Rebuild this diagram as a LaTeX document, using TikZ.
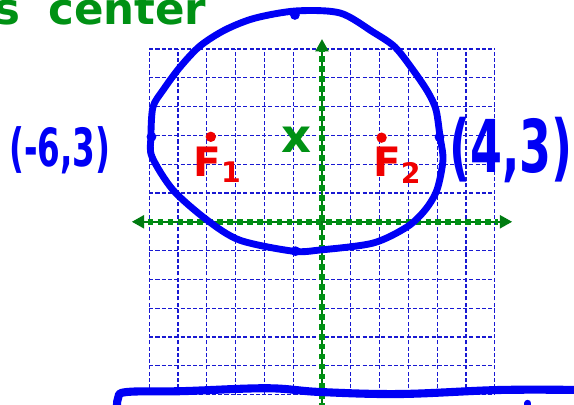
\documentclass[tikz,border=0pt]{standalone}
\usepackage{fontspec}
\setmainfont{DejaVu Sans}
\usepackage{graphicx}
\definecolor{pen}{RGB}{0,0,245}
\definecolor{gridblue}{RGB}{25,25,210}
\definecolor{marker}{RGB}{0,145,20}
\definecolor{focus}{RGB}{240,0,0}
\usetikzlibrary{arrows.meta}
\tikzset{
  gridline/.style={gridblue, line width=0.6pt, dash pattern=on 2pt off 1.1pt},
  axisline/.style={marker!85!black, line width=0.8pt,
              >={Triangle[length=6pt,width=6.5pt]}, <->},
  axisdots/.style={marker, line width=2.8pt, dash pattern=on 2.8pt off 2.1pt},
  curve/.style={pen, line width=3.4pt, line cap=round, line join=round},
  coordlabel/.style={pen, inner sep=0pt, font=\bfseries\fontsize{26}{26}\selectfont},
  foclabel/.style={focus, inner sep=0pt, font=\bfseries\fontsize{20}{20}\selectfont},
  note/.style={marker, inner sep=0pt, font=\bfseries\fontsize{21.5}{21.5}\selectfont},
}
\begin{document}
\begin{tikzpicture}[x=0.5cm,y=0.5cm]
    \useasboundingbox (-11.18,-6.36) rectangle (8.75,7.70);
    \clip (-11.18,-6.36) rectangle (8.75,7.70);
    % --- the grid and the axes ---
    \foreach \k in {-6,...,6} {
      \draw[gridline] (\k,-6) -- (\k,6);
      \draw[gridline] (-6,\k) -- (6,\k);
    }
    \draw[axisline] (-6.6,0) -- (6.6,0);
    \draw[axisdots] (-6.05,0) -- (6.1,0);
    \draw[axisline] (0,-6.9) -- (0,6.34);
    \draw[axisdots] (0,-6.5) -- (0,5.95);
    % --- the ellipse, with its four ends ---
    \draw[curve] plot[smooth cycle, tension=0.5] coordinates {
      (-0.90,7.32) (0.625,7.25) (1.77,6.59) (2.53,6.07) (3.16,5.27) (3.68,4.50)
      (3.96,3.88) (4.10,2.94) (4.20,2.14) (3.99,1.10) (3.58,0.41) (2.95,-0.18)
      (1.77,-0.74) (-0.07,-0.98) (-1.01,-1.02) (-2.85,-0.64) (-3.99,0.06)
      (-5.17,1.10) (-5.90,2.25) (-5.94,2.94) (-5.87,3.98) (-5.52,4.57)
      (-4.93,5.37) (-4.24,6.10) (-3.37,6.66) (-2.33,7.07)};
    \coordinate (endL) at (-5.92,2.95);
    \coordinate (endR) at (4.08,2.94);
    \coordinate (endT) at (-0.94,7.18);
    \coordinate (endB) at (-0.92,-1.02);
    \fill[pen] (endL) circle (0.17);
    \fill[pen] (endR) circle (0.17);
    \fill[pen] (endT) circle (0.17);
    \fill[pen] (endB) circle (0.17);
    \node[coordlabel] (ptL) at (-9.10,2.49) {\scalebox{0.62}[1]{(-6,3)}};
    \node[coordlabel, font=\bfseries\fontsize{36}{36}\selectfont] (ptR) at (6.56,2.49)
      {\scalebox{0.63}[1]{(4,3)}};
    % --- centre and foci ---
    \node[note, font=\bfseries\fontsize{23}{23}\selectfont] (ctr) at (-0.88,2.84) {x};
    \coordinate (fA) at (-3.86,2.95);
    \coordinate (fB) at (2.07,2.92);
    \fill[focus] (fA) circle (0.18);
    \fill[focus] (fB) circle (0.18);
    \node[foclabel] (labA) at (-3.62,1.97) {F\textsubscript{1}};
    \node[foclabel] (labB) at (2.62,1.97) {F\textsubscript{2}};
    % --- the heading, cut at the top ---
    \node[note, anchor=base west] (head) at (-11.40,6.86) {s\hspace{0.65em}center};
    % --- the stroke along the bottom ---
    \draw[curve, line width=4pt] plot[smooth, tension=0.6] coordinates {
      (-7.12,-6.6) (-7.08,-6.12) (-6.77,-5.91) (-4.83,-5.88) (-1.91,-5.78)
      (-0.07,-5.91) (2.71,-5.98) (6.18,-5.84) (9.0,-5.84)};
    \draw[curve] (7.15,-6.3) -- (7.15,-6.7);
\end{tikzpicture}
\end{document}
